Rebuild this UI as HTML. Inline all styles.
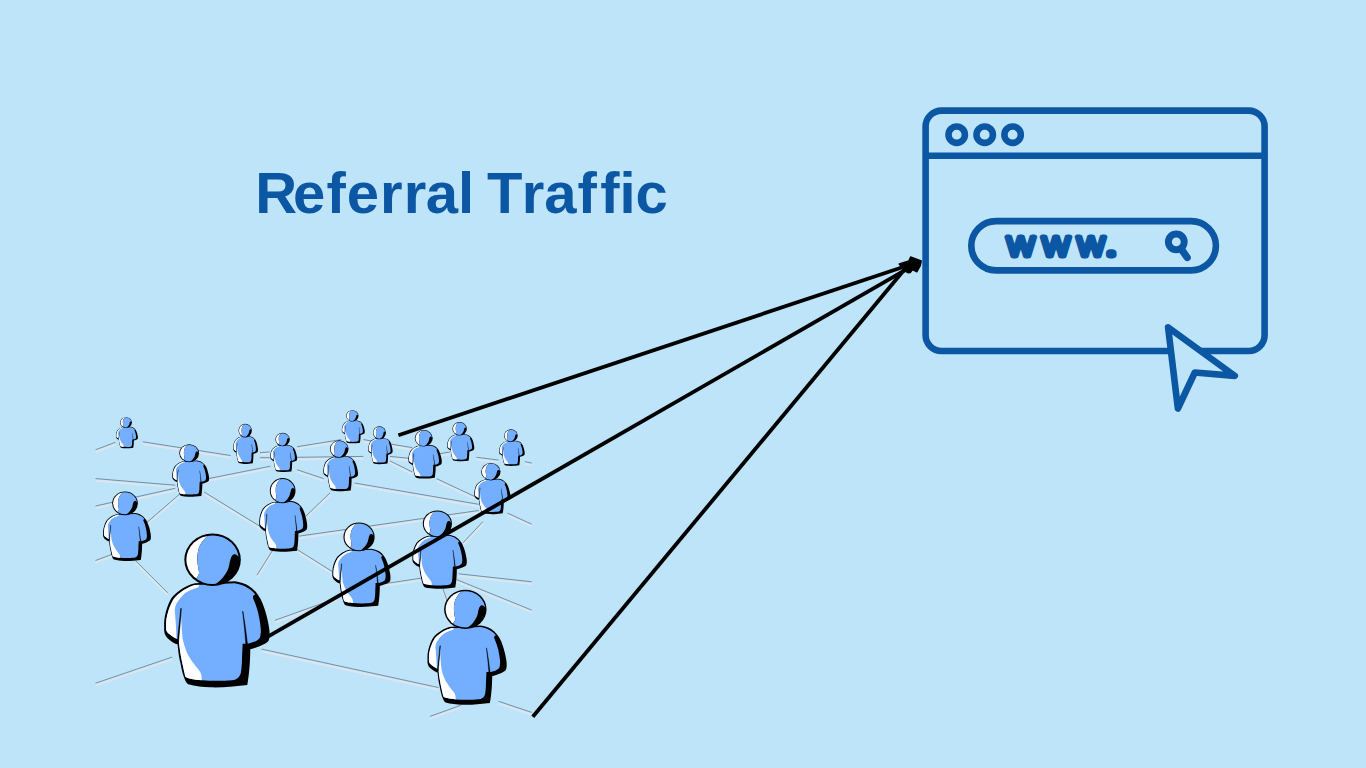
<!DOCTYPE html>
<html lang="en">
<head>
<meta charset="utf-8">
<title>Referral Traffic</title>
<style>
html,body{margin:0;padding:0;background:#bee4f9;}
body{width:1366px;height:768px;overflow:hidden;position:relative;font-family:"Liberation Sans",sans-serif;}
svg{position:absolute;left:0;top:0;display:block;}
</style>
</head>
<body>
<svg width="1366" height="768" viewBox="0 0 1366 768">
<rect width="1366" height="768" fill="#bee4f9"/>

<symbol id="p" viewBox="0 0 100 144" preserveAspectRatio="none" overflow="visible">
  <defs>
    <path id="bi" d="M30 48.3 C23 50 15 55 10 61 C6 67 2.8 77 2.5 84 L2.5 89.5 C2.7 92 4.2 93.3 6.2 94.8 C8.2 96.6 11 98.4 14.3 99.6 C15.2 108 16.5 116 17.8 121.7 C18.8 126 19.6 130 20.5 133.8 C21 135.5 28 137 36.5 137.7 C42 138.2 48 138.3 54.2 138.2 C59 138.1 64 137.8 67.4 137.1 C71 136 72.5 133 73 130.5 C73.7 126 74 121 74 117.3 L74.6 103.4 L79 103.4 C82 102.8 85 102 87.3 100.8 C89.5 99.5 91 98.3 91.2 96.4 C91.7 94 91.8 92 91.7 89.8 C91.3 85 90.5 80 89.5 75.5 C88.5 71 87 66.5 85.1 62.3 C84.3 60.5 84 59 84.8 58 L86.5 57.2 C84.5 54.5 82 52.5 79.5 51 C76 48.8 71.5 47.3 67 46.6 Z"/>
    <clipPath id="cb"><use href="#bi"/></clipPath>
  </defs>
  <path fill="#000" d="M30 46.5 C22 48 13.3 53.6 8 60 C4 66 1 76 0.7 84 L0.7 91 C1 95 3 97.5 4.5 98.6 C7 101 10 103 13.4 104.1 C14 112 15 117 16.1 121.7 C17 127 18 131 19.4 134.9 C20.5 138 21.5 140 23.3 141.5 C30 143.5 37 144 44.3 144.3 C51 144.5 57 144.2 63 143.7 L79 142.1 C80 136 80.8 130 81.2 123.9 C81.6 118 81.8 113 81.8 108.5 C85 107.7 88.5 106.6 91.7 105.2 C95 103.8 97.5 102.5 98.9 100.8 C99.8 99 100 96.5 100 94.2 C100 92 99.8 89.8 99.4 87.6 C98.6 82.5 97.5 78 96.1 73.3 C94.5 68 92.5 62 89.4 58 C86 53 83 51 80.6 49.2 C77 47 72 45.5 67.4 44.8 Z"/>
  <use href="#bi" fill="#73aeff"/>
  <g clip-path="url(#cb)" fill="#fff">
    <path d="M35 44 L33 50.3 C27 52 23 54 20.6 55.8 C18 58 16.2 60 14.8 62 C12.8 64.5 11.6 66.5 11.3 68.3 C10.8 70 10.6 71.5 10.8 73.3 L11.7 84.3 L12.3 96.5 L13 103 L-2 103 L-2 44 Z"/>
    <path d="M16.5 74 C17 85 17.5 93 18.3 99.7 C19.5 104 20.5 108 22.2 111.8 C24.5 116.5 27 120 29.9 123.9 C32 126.5 34 128.5 34.9 130.5 C36 133 36.2 135 36 140 L14 140 L14.3 100 L15.5 85 Z"/>
  </g>
  <path d="M16.9 70.3 C16.2 80 15.4 90 14.2 101.5 L13.2 101 C14.2 90 15.5 80 16.3 70.3 Z" fill="#000" stroke="#000" stroke-width="0.5"/>
  <path d="M74.9 73 C76.6 83 78 93 79.2 103.6 L77.6 103.6 C76.8 93 75.8 83 74.5 73 Z" fill="#000" stroke="#000" stroke-width="0.4"/>
</symbol>
<symbol id="ph" viewBox="0 0 100 144" preserveAspectRatio="none" overflow="visible">
  <defs><clipPath id="ch"><ellipse cx="46.3" cy="24.5" rx="24.7" ry="22.8"/></clipPath></defs>
  <ellipse cx="46.3" cy="24.5" rx="26.6" ry="24.65" fill="#000"/>
  <g clip-path="url(#ch)">
    <path d="M45 -3 L43.1 1 C39 4 36.4 7.3 34.5 11 C32.5 15 31.8 20 32 25 C32 29 33.2 33 33.5 36 C33.7 38 33.3 39.5 31 42 L24 52 L15 52 L15 -3 Z" fill="#fff"/>
    <path d="M43.1 -3 L43.1 1 C39 4 36.4 7.3 34.5 11 C32.5 15 31.8 20 32 25 C32 29 33.2 33 33.5 36 C33.7 38 33.3 39.5 31 42 L24 53 L46 53 L48.5 47.6 C52 45.5 54.3 43.5 56.2 41 C58.8 37.5 60.2 35 61.1 32.7 C62.2 29.5 62.3 26.5 63.2 24 C64 21.5 65 19.8 66.6 19.5 C68.3 19.2 69.6 20.3 70.3 21.5 L76 22 L76 -3 Z" fill="#73aeff"/>
  </g>
</symbol>
<!-- title -->
<g font-family="'Liberation Sans',sans-serif" font-weight="bold" font-size="58" fill="#0b57a4">
<text y="212.9" x="255.2 293.0 326.5 346.8 380.0 403.8 425.8 457.9">Referral</text>
<text y="212.9" x="486.9 521.7 544.2 577.6 600.2 619.6 635.6">Traffic</text>
</g>
<!-- network lines -->
<g stroke-linecap="butt" fill="none">

<line x1="95.5" y1="452.0" x2="115.4" y2="444.5" stroke="#dbe6ee" stroke-width="1.9"/>
<line x1="142.9" y1="444.0" x2="230.6" y2="457.7" stroke="#dbe6ee" stroke-width="1.9"/>
<line x1="95.5" y1="480.8" x2="175.2" y2="487.4" stroke="#dbe6ee" stroke-width="1.9"/>
<line x1="95.5" y1="508.2" x2="175.2" y2="490.5" stroke="#dbe6ee" stroke-width="1.9"/>
<line x1="208.4" y1="480.8" x2="270.4" y2="468.4" stroke="#dbe6ee" stroke-width="1.9"/>
<line x1="146.4" y1="525.1" x2="179.6" y2="496.3" stroke="#dbe6ee" stroke-width="1.9"/>
<line x1="204.0" y1="494.1" x2="261.6" y2="529.5" stroke="#dbe6ee" stroke-width="1.9"/>
<line x1="95.5" y1="562.7" x2="113.2" y2="556.1" stroke="#dbe6ee" stroke-width="1.9"/>
<line x1="135.4" y1="562.7" x2="167.7" y2="595.0" stroke="#dbe6ee" stroke-width="1.9"/>
<line x1="95.5" y1="685.4" x2="172.1" y2="659.3" stroke="#dbe6ee" stroke-width="1.9"/>
<line x1="261.6" y1="651.3" x2="438.7" y2="689.8" stroke="#dbe6ee" stroke-width="1.9"/>
<line x1="257.1" y1="577.3" x2="272.6" y2="552.5" stroke="#dbe6ee" stroke-width="1.9"/>
<line x1="297.0" y1="551.6" x2="332.4" y2="573.8" stroke="#dbe6ee" stroke-width="1.9"/>
<line x1="305.9" y1="518.4" x2="330.2" y2="494.9" stroke="#dbe6ee" stroke-width="1.9"/>
<line x1="299.2" y1="538.3" x2="478.6" y2="512.7" stroke="#dbe6ee" stroke-width="1.9"/>
<line x1="354.6" y1="485.2" x2="478.6" y2="506.5" stroke="#dbe6ee" stroke-width="1.9"/>
<line x1="274.9" y1="622.5" x2="336.9" y2="600.3" stroke="#dbe6ee" stroke-width="1.9"/>
<line x1="385.6" y1="585.7" x2="421.0" y2="580.4" stroke="#dbe6ee" stroke-width="1.9"/>
<line x1="458.7" y1="576.0" x2="531.7" y2="584.0" stroke="#dbe6ee" stroke-width="1.9"/>
<line x1="456.4" y1="581.7" x2="531.7" y2="612.3" stroke="#dbe6ee" stroke-width="1.9"/>
<line x1="443.2" y1="591.5" x2="447.6" y2="604.8" stroke="#dbe6ee" stroke-width="1.9"/>
<line x1="429.9" y1="718.6" x2="460.9" y2="707.5" stroke="#dbe6ee" stroke-width="1.9"/>
<line x1="498.5" y1="703.5" x2="531.7" y2="714.6" stroke="#dbe6ee" stroke-width="1.9"/>
<line x1="463.1" y1="545.0" x2="483.0" y2="523.7" stroke="#dbe6ee" stroke-width="1.9"/>
<line x1="507.4" y1="515.3" x2="531.7" y2="526.4" stroke="#dbe6ee" stroke-width="1.9"/>
<line x1="436.5" y1="480.8" x2="474.2" y2="498.5" stroke="#dbe6ee" stroke-width="1.9"/>
<line x1="259.9" y1="454.9" x2="269.6" y2="454.1" stroke="#dbe6ee" stroke-width="1.9"/>
<line x1="259.9" y1="459.9" x2="269.6" y2="459.9" stroke="#dbe6ee" stroke-width="1.9"/>
<line x1="297.0" y1="448.9" x2="341.3" y2="441.8" stroke="#dbe6ee" stroke-width="1.9"/>
<line x1="297.0" y1="459.5" x2="363.4" y2="458.6" stroke="#dbe6ee" stroke-width="1.9"/>
<line x1="297.0" y1="471.9" x2="323.6" y2="480.8" stroke="#dbe6ee" stroke-width="1.9"/>
<line x1="363.4" y1="441.8" x2="412.2" y2="449.8" stroke="#dbe6ee" stroke-width="1.9"/>
<line x1="390.0" y1="458.6" x2="412.2" y2="460.8" stroke="#dbe6ee" stroke-width="1.9"/>
<line x1="390.0" y1="463.1" x2="412.2" y2="474.1" stroke="#dbe6ee" stroke-width="1.9"/>
<line x1="436.5" y1="456.4" x2="449.8" y2="454.2" stroke="#dbe6ee" stroke-width="1.9"/>
<line x1="476.4" y1="459.5" x2="498.5" y2="462.2" stroke="#dbe6ee" stroke-width="1.9"/>
<line x1="525.1" y1="463.9" x2="531.7" y2="465.3" stroke="#dbe6ee" stroke-width="1.9"/>
<line x1="95.5" y1="449.8" x2="115.4" y2="442.3" stroke="#4f6072" stroke-width="0.65"/>
<line x1="142.9" y1="441.8" x2="230.6" y2="455.5" stroke="#4f6072" stroke-width="0.65"/>
<line x1="95.5" y1="478.6" x2="175.2" y2="485.2" stroke="#4f6072" stroke-width="0.65"/>
<line x1="95.5" y1="506.0" x2="175.2" y2="488.3" stroke="#4f6072" stroke-width="0.65"/>
<line x1="208.4" y1="478.6" x2="270.4" y2="466.2" stroke="#4f6072" stroke-width="0.65"/>
<line x1="146.4" y1="522.9" x2="179.6" y2="494.1" stroke="#4f6072" stroke-width="0.65"/>
<line x1="204.0" y1="491.9" x2="261.6" y2="527.3" stroke="#4f6072" stroke-width="0.65"/>
<line x1="95.5" y1="560.5" x2="113.2" y2="553.9" stroke="#4f6072" stroke-width="0.65"/>
<line x1="135.4" y1="560.5" x2="167.7" y2="592.8" stroke="#4f6072" stroke-width="0.65"/>
<line x1="95.5" y1="683.2" x2="172.1" y2="657.1" stroke="#4f6072" stroke-width="0.65"/>
<line x1="261.6" y1="649.1" x2="438.7" y2="687.6" stroke="#4f6072" stroke-width="0.65"/>
<line x1="257.1" y1="575.1" x2="272.6" y2="550.3" stroke="#4f6072" stroke-width="0.65"/>
<line x1="297.0" y1="549.4" x2="332.4" y2="571.6" stroke="#4f6072" stroke-width="0.65"/>
<line x1="305.9" y1="516.2" x2="330.2" y2="492.7" stroke="#4f6072" stroke-width="0.65"/>
<line x1="299.2" y1="536.1" x2="478.6" y2="510.5" stroke="#4f6072" stroke-width="0.65"/>
<line x1="354.6" y1="483.0" x2="478.6" y2="504.3" stroke="#4f6072" stroke-width="0.65"/>
<line x1="274.9" y1="620.3" x2="336.9" y2="598.1" stroke="#4f6072" stroke-width="0.65"/>
<line x1="385.6" y1="583.5" x2="421.0" y2="578.2" stroke="#4f6072" stroke-width="0.65"/>
<line x1="458.7" y1="573.8" x2="531.7" y2="581.8" stroke="#4f6072" stroke-width="0.65"/>
<line x1="456.4" y1="579.5" x2="531.7" y2="610.1" stroke="#4f6072" stroke-width="0.65"/>
<line x1="443.2" y1="589.3" x2="447.6" y2="602.6" stroke="#4f6072" stroke-width="0.65"/>
<line x1="429.9" y1="716.4" x2="460.9" y2="705.3" stroke="#4f6072" stroke-width="0.65"/>
<line x1="498.5" y1="701.3" x2="531.7" y2="712.4" stroke="#4f6072" stroke-width="0.65"/>
<line x1="463.1" y1="542.8" x2="483.0" y2="521.5" stroke="#4f6072" stroke-width="0.65"/>
<line x1="507.4" y1="513.1" x2="531.7" y2="524.2" stroke="#4f6072" stroke-width="0.65"/>
<line x1="436.5" y1="478.6" x2="474.2" y2="496.3" stroke="#4f6072" stroke-width="0.65"/>
<line x1="259.9" y1="452.7" x2="269.6" y2="451.9" stroke="#4f6072" stroke-width="0.65"/>
<line x1="259.9" y1="457.7" x2="269.6" y2="457.7" stroke="#4f6072" stroke-width="0.65"/>
<line x1="297.0" y1="446.7" x2="341.3" y2="439.6" stroke="#4f6072" stroke-width="0.65"/>
<line x1="297.0" y1="457.3" x2="363.4" y2="456.4" stroke="#4f6072" stroke-width="0.65"/>
<line x1="297.0" y1="469.7" x2="323.6" y2="478.6" stroke="#4f6072" stroke-width="0.65"/>
<line x1="363.4" y1="439.6" x2="412.2" y2="447.6" stroke="#4f6072" stroke-width="0.65"/>
<line x1="390.0" y1="456.4" x2="412.2" y2="458.6" stroke="#4f6072" stroke-width="0.65"/>
<line x1="390.0" y1="460.9" x2="412.2" y2="471.9" stroke="#4f6072" stroke-width="0.65"/>
<line x1="436.5" y1="454.2" x2="449.8" y2="452.0" stroke="#4f6072" stroke-width="0.65"/>
<line x1="476.4" y1="457.3" x2="498.5" y2="460.0" stroke="#4f6072" stroke-width="0.65"/>
<line x1="525.1" y1="461.7" x2="531.7" y2="463.1" stroke="#4f6072" stroke-width="0.65"/>
</g>
<!-- people -->
<use href="#p" x="115.8" y="417.2" width="22.1" height="31.0"/><use href="#ph" x="115.8" y="417.2" width="22.1" height="31.0"/>
<use href="#p" x="233.0" y="423.7" width="25.0" height="40.1"/><use href="#ph" x="233.6" y="423.7" width="25.0" height="40.1"/>
<use href="#p" x="341.7" y="410.2" width="23.1" height="33.0"/><use href="#ph" x="341.7" y="410.2" width="23.1" height="33.0"/>
<use href="#p" x="270.1" y="432.8" width="27.0" height="39.1"/><use href="#ph" x="270.1" y="432.8" width="27.0" height="39.1"/>
<use href="#p" x="368.1" y="426.4" width="24.5" height="37.7"/><use href="#ph" x="368.1" y="426.4" width="24.5" height="37.7"/>
<use href="#p" x="447.0" y="422.1" width="27.3" height="39.1"/><use href="#ph" x="447.0" y="422.1" width="27.3" height="39.1"/>
<use href="#p" x="499.0" y="429.4" width="25.7" height="36.4"/><use href="#ph" x="499.0" y="429.4" width="25.7" height="36.4"/>
<use href="#p" x="408.2" y="430.0" width="33.6" height="48.5"/><use href="#ph" x="408.2" y="430.0" width="33.6" height="48.5"/>
<use href="#p" x="172.0" y="444.3" width="37.1" height="52.3"/><use href="#ph" x="172.0" y="444.3" width="37.1" height="52.3"/>
<use href="#p" x="323.1" y="440.4" width="34.9" height="50.7"/><use href="#ph" x="323.1" y="440.4" width="34.9" height="50.7"/>
<use href="#p" x="474.0" y="463.0" width="36.4" height="51.0"/><use href="#ph" x="474.0" y="463.0" width="36.4" height="51.0"/>
<use href="#p" x="102.7" y="491.5" width="48.2" height="69.3"/><use href="#ph" x="102.7" y="491.5" width="48.2" height="69.3"/>
<use href="#p" x="258.9" y="478.2" width="48.3" height="73.4"/><use href="#ph" x="260.3" y="478.2" width="48.3" height="73.4"/>
<use href="#p" x="412.0" y="510.5" width="54.8" height="78.1"/><use href="#ph" x="412.0" y="510.5" width="54.8" height="78.1"/>
<use href="#p" x="331.9" y="522.6" width="58.6" height="84.2"/><use href="#ph" x="331.9" y="522.6" width="58.6" height="84.2"/>
<use href="#p" x="163.4" y="533.6" width="106.2" height="153.4"/><use href="#ph" x="163.4" y="533.6" width="106.2" height="153.4"/>
<use href="#p" x="426.9" y="589.8" width="79.8" height="114.6"/><use href="#ph" x="428.4" y="589.8" width="79.8" height="114.6"/>

<!-- arrows -->
<g stroke="#000" stroke-width="3.8" fill="#000" stroke-linejoin="round">
<line x1="398.4" y1="435.3" x2="913" y2="263.7"/>
<line x1="267" y1="637.1" x2="913" y2="265.7"/>
<line x1="532.8" y1="716.8" x2="906.5" y2="267"/>
<path d="M899.2 264 L908.8 261 L910.6 257 L921.2 260.9 L920.3 265.6 L916.8 271.8 L912.6 269.6 L910.2 272.6 L907.8 272.7 L905 271 Z" stroke-width="1.4"/>
</g>
<!-- browser window -->
<g fill="none" stroke="#0b57a4" stroke-width="6.6" stroke-linecap="round" stroke-linejoin="round">
<rect x="925.6" y="110.6" width="339" height="240.4" rx="16" ry="16"/>
<line x1="927" y1="155.7" x2="1263" y2="155.7"/>
<circle cx="956.7" cy="134.7" r="8.2"/>
<circle cx="984.7" cy="134.7" r="8.2"/>
<circle cx="1012.6" cy="134.7" r="8.2"/>
<rect x="971.3" y="221.1" width="244.6" height="49.3" rx="24.65" ry="24.65"/>
<circle cx="1176.3" cy="241.9" r="7.9" stroke-width="6.9"/>
<line x1="1181.5" y1="249.4" x2="1187.2" y2="257.5" stroke-width="7.3"/>
<path d="M1168.1 327.4 L1234.8 375.9 L1194.8 372.5 L1177.9 408.5 Z" fill="#bee4f9"/>
</g>
<g transform="scale(1.19,1)"><text y="256.10" x="844.32 873.90 903.39" font-family="'DejaVu Sans','Liberation Sans',sans-serif" font-weight="200" font-size="34.0" fill="#0b57a4" stroke="#0b57a4" stroke-width="5.0" stroke-linejoin="round" stroke-linecap="round">www<tspan x="928.43" dy="-1.1" stroke-width="7.2">.</tspan></text></g>
</svg>
</body>
</html>
